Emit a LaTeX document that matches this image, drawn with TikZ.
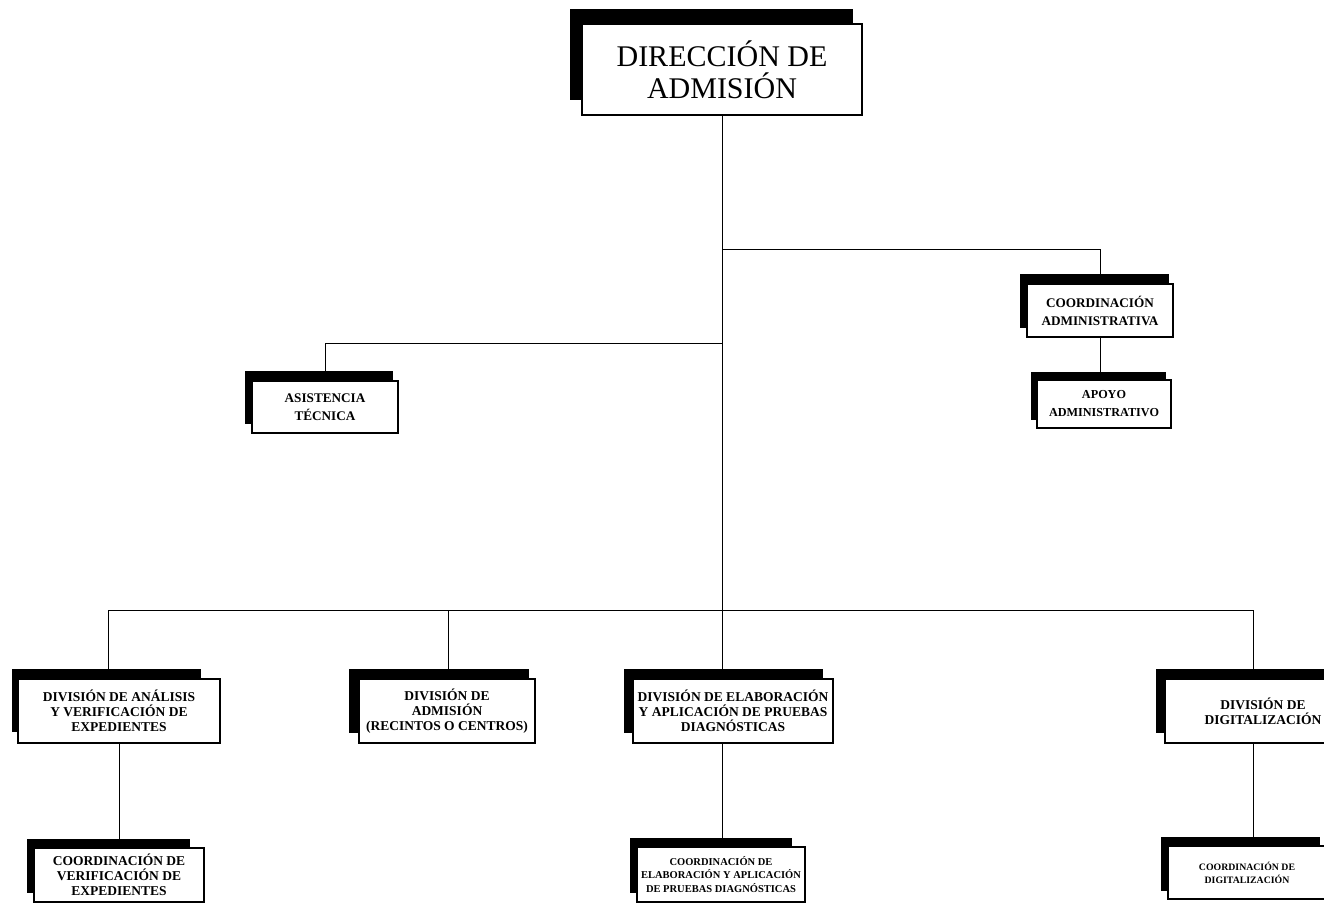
\documentclass[tikz,border=0pt]{standalone}
\usepackage{fontspec}
\setmainfont{Liberation Serif}
\begin{document}
\begin{tikzpicture}[x=1pt,y=-1pt,
  box/.style={draw=black, line width=1.1pt, fill=white, inner sep=0pt, align=center},
  shade/.style={fill=black},
  conn/.style={draw=black, line width=1pt},
  fA/.style={font=\bfseries\fontsize{13.5}{15}\selectfont},
  fB/.style={font=\bfseries\fontsize{13.2}{18}\selectfont}]
\useasboundingbox (0,0) rectangle (1324,903);
\clip (0,0) rectangle (1324,903);
% shadows
\fill[shade] (570,9) rectangle (853,100);
\fill[shade] (245,371) rectangle (393,424);
\fill[shade] (1020,274) rectangle (1169,328);
\fill[shade] (1031,372) rectangle (1166,420);
\fill[shade] (12,669) rectangle (201,732);
\fill[shade] (349,669) rectangle (529,733);
\fill[shade] (624,669) rectangle (823,733);
\fill[shade] (1156,669) rectangle (1352,733);
\fill[shade] (27,839) rectangle (190,893);
\fill[shade] (630,838) rectangle (792,893);
\fill[shade] (1161,837) rectangle (1320,891);
% boxes
\node[box, line width=1.3pt, minimum width=280pt, minimum height=91pt, font=\fontsize{30}{32}\selectfont] (dir) at (722,69.5) {DIRECCIÓN DE\\ADMISIÓN};
\node[box, fB, minimum width=146pt, minimum height=52pt] (at) at (325,407) {ASISTENCIA\\TÉCNICA};
\node[box, fB, minimum width=146pt, minimum height=53pt] (ca) at (1100,310.5) {COORDINACIÓN\\ADMINISTRATIVA};
\node[box, fB, font=\bfseries\fontsize{12.2}{18}\selectfont, minimum width=134pt, minimum height=48pt] (ap) at (1104,404) {APOYO\\ADMINISTRATIVO};
\node[box, fA, minimum width=202pt, minimum height=64pt] (d1) at (119,711) {DIVISIÓN DE ANÁLISIS\\Y VERIFICACIÓN DE\\EXPEDIENTES};
\node[box, fA, minimum width=176pt, minimum height=64pt] (d2) at (447,711) {DIVISIÓN DE\\ADMISIÓN\\(RECINTOS O CENTROS)};
\node[box, fA, minimum width=200pt, minimum height=64pt] (d3) at (733,711) {DIVISIÓN DE ELABORACIÓN\\Y APLICACIÓN DE PRUEBAS\\DIAGNÓSTICAS};
\node[box, fA, minimum width=196pt, minimum height=64pt] (d4) at (1263,711) {DIVISIÓN DE\\DIGITALIZACIÓN};
\node[box, fA, minimum width=170pt, minimum height=54pt] (c1) at (119,875) {COORDINACIÓN DE\\VERIFICACIÓN DE\\EXPEDIENTES};
\node[box, font=\bfseries\fontsize{10.5}{13.5}\selectfont, minimum width=168pt, minimum height=55pt] (c3) at (721,874.5) {COORDINACIÓN DE\\ELABORACIÓN Y APLICACIÓN\\DE PRUEBAS DIAGNÓSTICAS};
\node[box, font=\bfseries\fontsize{9.8}{13}\selectfont, minimum width=158pt, minimum height=53pt] (c4) at (1247,872.5) {COORDINACIÓN DE\\DIGITALIZACIÓN};
% connectors
\coordinate (j1) at (722,249);
\coordinate (j2) at (722,343);
\coordinate (b1) at (108,610);
\coordinate (b2) at (448,610);
\coordinate (b3) at (722,610);
\coordinate (b4) at (1253,610);
\draw[conn] (dir.south) -- (dir.south |- d3.north);
\draw[conn] (j1) -| (ca.north);
\draw[conn] (j2) -| (at.north);
\draw[conn] (ca.south) -- (ca.south |- ap.north);
\draw[conn] (b1) -- (b4);
\draw[conn] (b1) -- (b1 |- d1.north);
\draw[conn] (b2) -- (b2 |- d2.north);
\draw[conn] (b4) -- (b4 |- d4.north);
\draw[conn] (d1.south) -- (d1.south |- c1.north);
\draw[conn] (b3 |- d3.south) -- (b3 |- c3.north);
\draw[conn] (b4 |- d4.south) -- (b4 |- c4.north);
\end{tikzpicture}
\end{document}
